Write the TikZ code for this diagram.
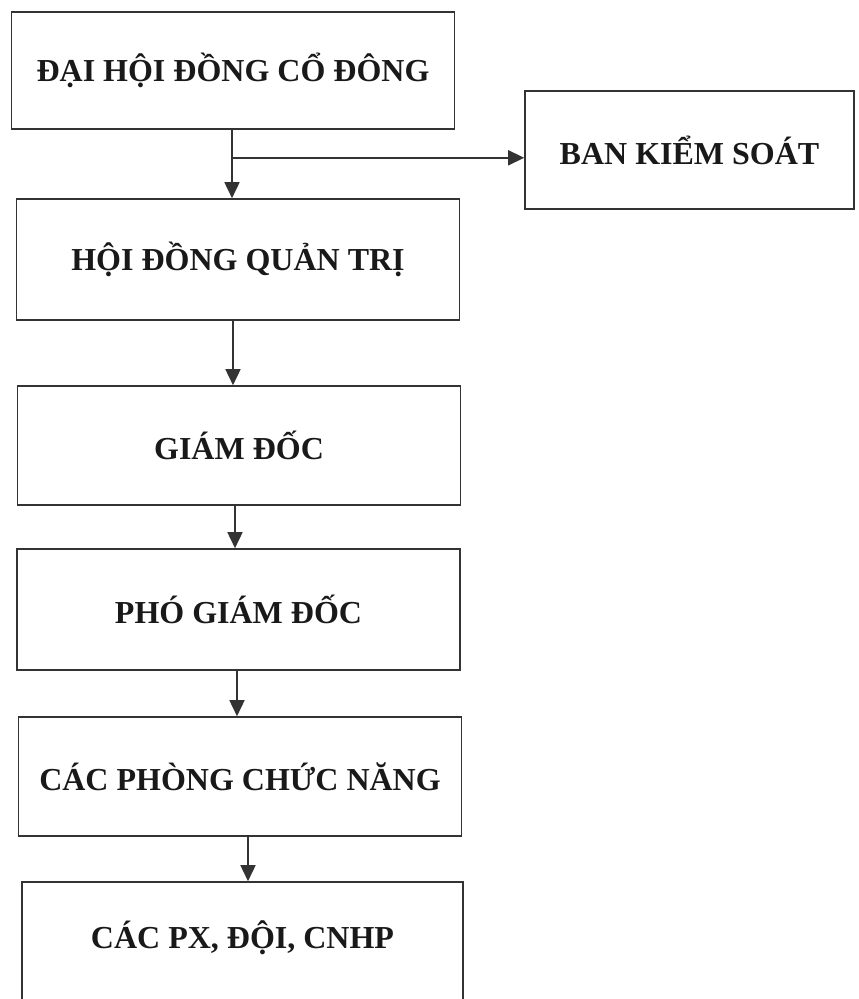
\documentclass[tikz,border=0pt]{standalone}
\usepackage{fontspec}
\setmainfont{Liberation Serif}
\usepackage{tikz}
\usetikzlibrary{calc}
\usetikzlibrary{arrows.meta}

\begin{document}
\begin{tikzpicture}[x=1pt,y=-1pt,
    box/.style={draw=black!80,line width=1.6pt,minimum width=443pt,minimum height=119pt,
        inner sep=0pt,font=\fontsize{32}{36}\selectfont\bfseries,text=black!90},
    arr/.style={draw=black!80,line width=1.6pt,-{Triangle[length=16pt,width=15pt]}}]
            \useasboundingbox (0,0) rectangle (859,999);
            \node[box,minimum height=117pt] (dh) at (233,70.5) {ĐẠI HỘI ĐỒNG CỔ ĐÔNG};
            \node[box,minimum width=329pt,minimum height=118pt] (bks) at (689.5,150) {BAN KIỂM SOÁT};
            \node[box,minimum height=121pt] (hd) at (238,259.5) {HỘI ĐỒNG QUẢN TRỊ};
            \node[box] (gd) at (239,445.5) {GIÁM ĐỐC};
            \node[box,minimum height=121pt] (pgd) at (238.5,609.5) {PHÓ GIÁM ĐỐC};
            \node[box] (cp) at (240,776.5) {CÁC PHÒNG CHỨC NĂNG};
            \node[box,minimum width=441pt,minimum height=124pt,text depth=19pt] (px) at (242.5,944) {CÁC PX, ĐỘI, CNHP};

            \coordinate (br) at ($(dh.south)+(-1,28)$);
            \draw[arr] ([xshift=-1pt]dh.south) -- ([xshift=-1pt]dh.south |- hd.north);
            \draw[arr] (br) -- (br -| bks.west);
            \draw[arr] ([xshift=-5pt]hd.south) -- ([xshift=-5pt]hd.south |- gd.north);
            \draw[arr] ([xshift=-4pt]gd.south) -- ([xshift=-4pt]gd.south |- pgd.north);
            \draw[arr] ([xshift=-1.5pt]pgd.south) -- ([xshift=-1.5pt]pgd.south |- cp.north);
            \draw[arr] ([xshift=8pt]cp.south) -- ([xshift=8pt]cp.south |- px.north);
        \end{tikzpicture}
\end{document}
